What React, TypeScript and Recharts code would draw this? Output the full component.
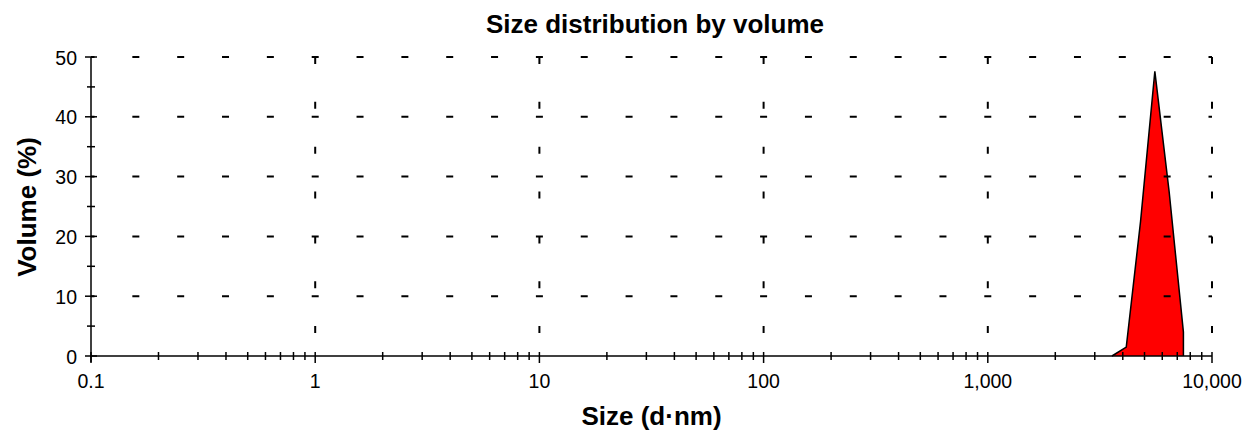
import React from 'react';
import { AreaChart, Area, XAxis, YAxis, ReferenceLine, Label } from 'recharts';

// size bins (d.nm) and volume (%)
const sizes = [3580, 4145, 4801, 5560, 6439, 7456, 7456];
const volumes = [0, 1.5, 22.5, 47.6, 27.5, 4, 0];

const majorX = [0.1, 1, 10, 100, 1000, 10000];
const majorXLabels = ['0.1', '1', '10', '100', '1,000', '10,000'];
const minorX = [2, 3, 4, 5, 6, 7, 8, 9];
const yTicks = [0, 5, 10, 15, 20, 25, 30, 35, 40, 45, 50];
const yGrid = [10, 20, 30, 40, 50];
const xGrid = [1, 10, 100, 1000, 10000];

const data = sizes.map((s, i) => ({ size: s, volume: volumes[i] }));

const xTicks: number[] = [];
majorX.forEach((d, i) => {
  xTicks.push(d);
  if (i < majorX.length - 1) minorX.forEach((m) => xTicks.push(d * m));
});

const FONT = "Arial, 'Liberation Sans', sans-serif";
const DASH = '7 37.84';

const XTick = (props: any) => {
  const { x, y, payload } = props;
  const idx = majorX.indexOf(payload.value);
  const major = idx >= 0;
  return (
    <g>
      <line x1={x} x2={x} y1={y - 4} y2={y + (major ? 7 : 4)} stroke="#000" strokeWidth={1.5} />
      {major && (
        <text x={x} y={y + 32} textAnchor="middle" fontSize={19.5} fontFamily={FONT} fill="#000">
          {majorXLabels[idx]}
        </text>
      )}
    </g>
  );
};

const YTick = (props: any) => {
  const { x, y, payload } = props;
  const major = payload.value % 10 === 0;
  return (
    <g>
      <line x1={x - (major ? 6 : 4)} x2={x + (major ? 6 : 4)} y1={y} y2={y} stroke="#000" strokeWidth={1.5} />
      {payload.value === 0 && <line x1={x} x2={x} y1={y} y2={y + 6} stroke="#000" strokeWidth={1.5} />}
      {major && (
        <text x={x - 14} y={y + 7.5} textAnchor="end" fontSize={19.5} fontFamily={FONT} fill="#000">
          {payload.value}
        </text>
      )}
    </g>
  );
};

export default function App() {
  return (
    <div style={{ position: 'absolute', left: 0, top: 0, width: 1245, height: 430, background: '#fff' }}>
      <div
        style={{
          position: 'absolute',
          left: 0,
          width: 1310,
          top: 9,
          textAlign: 'center',
          fontFamily: FONT,
          fontWeight: 'bold',
          fontSize: 26,
          whiteSpace: 'nowrap',
        }}
      >
        Size distribution by volume
      </div>
      <div
        style={{
          position: 'absolute',
          left: 27,
          top: 207,
          transform: 'translate(-50%, -50%) rotate(-90deg)',
          fontFamily: FONT,
          fontWeight: 'bold',
          fontSize: 26,
          whiteSpace: 'nowrap',
          zIndex: 1,
        }}
      >
        Volume (%)
      </div>
      <AreaChart width={1245} height={430} data={data} margin={{ top: 57, right: 33, left: 31, bottom: 34 }}>
        <XAxis
          dataKey="size"
          type="number"
          scale="log"
          domain={[0.1, 10000]}
          allowDataOverflow
          ticks={xTicks}
          interval={0}
          tickSize={0}
          tickMargin={0}
          tickLine={false}
          tick={<XTick />}
          height={40}
          axisLine={{ stroke: '#000', strokeWidth: 1.5 }}
        >
          <Label value="Size (d·nm)" position="bottom" offset={11} fontSize={26} fontWeight="bold" fontFamily={FONT} fill="#000" />
        </XAxis>
        <YAxis
          type="number"
          domain={[0, 50]}
          ticks={yTicks}
          interval={0}
          tickSize={0}
          tickMargin={0}
          tickLine={false}
          tick={<YTick />}
          width={60}
          axisLine={{ stroke: '#000', strokeWidth: 1.5 }}
        />
        {yGrid.map((v) => (
          <ReferenceLine key={'h' + v} y={v} stroke="#000" strokeWidth={2} strokeDasharray={DASH} strokeDashoffset={3.5} />
        ))}
        {xGrid.map((v) => (
          <ReferenceLine key={'v' + v} x={v} stroke="#000" strokeWidth={2} strokeDasharray={DASH} strokeDashoffset={21.9} />
        ))}
        <Area
          type="linear"
          dataKey="volume"
          stroke="#000"
          strokeWidth={1.5}
          fill="#ff0000"
          fillOpacity={1}
          dot={false}
          activeDot={false}
          isAnimationActive={false}
        />
      </AreaChart>
    </div>
  );
}
